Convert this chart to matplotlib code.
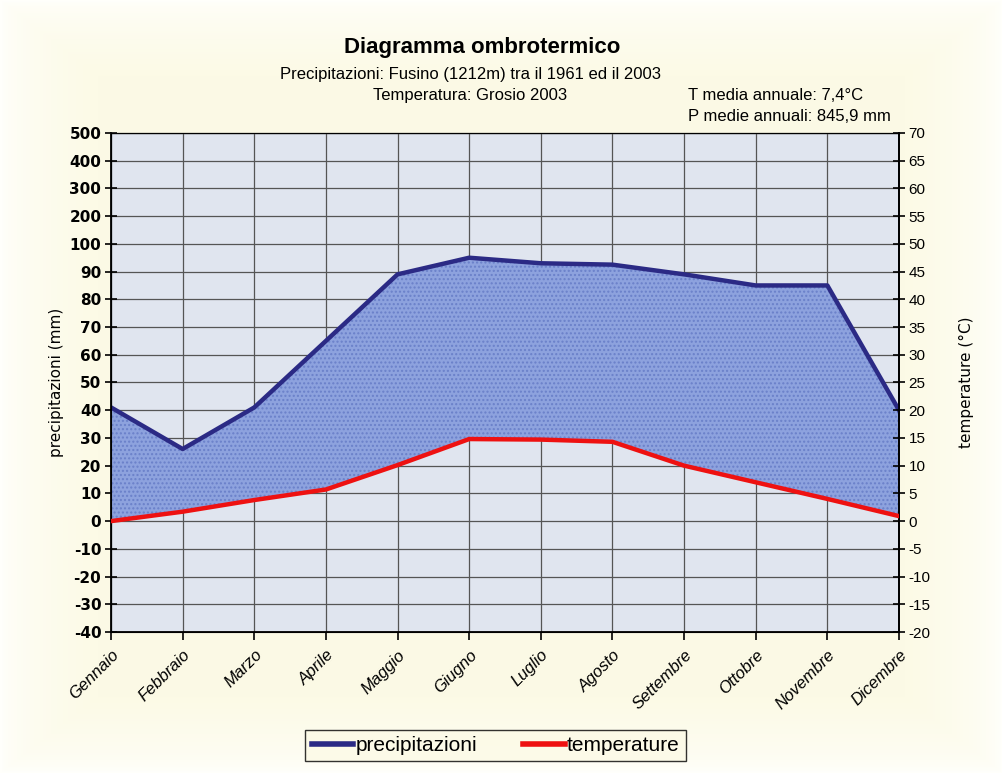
import matplotlib
matplotlib.use("Agg")
import matplotlib.pyplot as plt
import numpy as np
from matplotlib.lines import Line2D

months = ["Gennaio", "Febbraio", "Marzo", "Aprile", "Maggio", "Giugno",
          "Luglio", "Agosto", "Settembre", "Ottobre", "Novembre", "Dicembre"]
precipitazioni = [41, 26, 41, 65, 89, 95, 93, 92.5, 89, 85, 85, 40]
temperature = [0, 1.7, 3.8, 5.7, 10.1, 14.8, 14.7, 14.3, 10.0, 7.0, 4.0, 0.9]

left_tick_labels = ["-40", "-30", "-20", "-10", "0", "10", "20", "30", "40", "50",
                    "60", "70", "80", "90", "100", "200", "300", "400", "500"]
right_ticks = list(range(-20, 75, 5))

FONT = ["Liberation Sans", "DejaVu Sans"]

fig = plt.figure(figsize=(10.03, 7.73), dpi=100)
fig.patch.set_facecolor("#fcfae6")

# soft background vignette
bg = fig.add_axes([0, 0, 1, 1], zorder=-10)
n = 300
gx = np.linspace(0, 1, n)
X, Y = np.meshgrid(gx, gx)
dx = np.minimum(X, 1 - X) / 0.10
dy = np.minimum(Y, 1 - Y) / 0.10
val = np.clip(np.minimum(dx, dy), 0, 1) ** 0.6
img = np.zeros((n, n, 3))
c_in = np.array([0.988, 0.980, 0.900])
c_out = np.array([1.0, 1.0, 0.985])
for i in range(3):
    img[..., i] = c_out[i] + (c_in[i] - c_out[i]) * val
bg.imshow(img, extent=[0, 1, 0, 1], aspect="auto", origin="lower")
bg.axis("off")

ax = fig.add_axes([0.1107, 0.1824, 0.7856, 0.6456])
ax.set_facecolor("#e0e5ef")
x = np.arange(len(months))

ax.set_xlim(0, len(months) - 1)
left_pos = np.arange(-40, 141, 10)
ax.set_ylim(-40, 140)
ax.set_yticks(left_pos)
ax.set_yticklabels(left_tick_labels, fontweight="bold", fontsize=11, family=["DejaVu Sans"])
ax.tick_params(axis="y", direction="inout", length=8, width=1.2, pad=3, colors="black")

ax.set_xticks(x)
ax.set_xticklabels(months, rotation=45, ha="right", rotation_mode="anchor",
                   fontsize=12, fontstyle="italic", family=FONT)
ax.tick_params(axis="x", direction="out", length=6, width=1.2, pad=5)

ax.grid(True, color="#555555", linewidth=0.9, zorder=1)
ax.set_axisbelow(True)
for s in ["left", "bottom", "right"]:
    ax.spines[s].set_linewidth(1.3)
    ax.spines[s].set_color("black")
ax.spines["top"].set_color("#555555")
ax.spines["top"].set_linewidth(0.9)

ax2 = ax.twinx()
ax2.set_ylim(-20, 70)
ax2.set_yticks(right_ticks)
ax2.set_yticklabels([str(t) for t in right_ticks], fontsize=11, family=FONT)
ax2.tick_params(axis="y", direction="inout", length=8, width=1.2, pad=3)
ax2.spines["right"].set_linewidth(1.3)

# ratio between the two scales (from axis limits)
l0, l1 = ax.get_ylim()
r0, r1 = ax2.get_ylim()
ratio = (l1 - l0) / (r1 - r0)
temp_in_left = [l0 + (t - r0) * ratio for t in temperature]

ax.fill_between(x, precipitazioni, temp_in_left, facecolor="#8da2de",
                edgecolor="#6a80c9", hatch="....", linewidth=0, zorder=2)
ax.plot(x, precipitazioni, color="#2b2a85", linewidth=3.2, zorder=4,
        solid_joinstyle="round")
ax2.plot(x, temperature, color="#ee1111", linewidth=3.2, zorder=4,
         solid_joinstyle="round")

ax.set_ylabel("precipitazioni (mm)", fontsize=11, family=["DejaVu Sans"], labelpad=4)
ax2.set_ylabel("temperature (°C)", fontsize=11, family=["DejaVu Sans"], labelpad=20)

fig.text(0.481, 0.938, "Diagramma ombrotermico", ha="center", va="center",
         fontsize=16, fontweight="bold", family=FONT)
fig.text(0.469, 0.903, "Precipitazioni: Fusino (1212m) tra il 1961 ed il 2003",
         ha="center", va="center", fontsize=12, family=FONT)
fig.text(0.469, 0.876, "Temperatura: Grosio 2003", ha="center", va="center",
         fontsize=12, family=FONT)
fig.text(0.686, 0.876, "T media annuale: 7,4°C", ha="left", va="center",
         fontsize=12, family=FONT)
fig.text(0.686, 0.849, "P medie annuali: 845,9 mm", ha="left", va="center",
         fontsize=12, family=FONT)

handles = [Line2D([], [], color="#2b2a85", linewidth=4),
           Line2D([], [], color="#ee1111", linewidth=4)]
leg = fig.legend(handles, ["precipitazioni", "temperature"], loc="center",
                 bbox_to_anchor=(0.494, 0.0355), ncol=2, frameon=True,
                 fancybox=False, edgecolor="black", facecolor="#fcfae6",
                 prop={"family": FONT, "size": 15}, handlelength=2.0,
                 handletextpad=0.1, columnspacing=2.2, borderpad=0.3)
leg.get_frame().set_linewidth(1.0)

fig.savefig("out.png", dpi=100, facecolor=fig.get_facecolor())
